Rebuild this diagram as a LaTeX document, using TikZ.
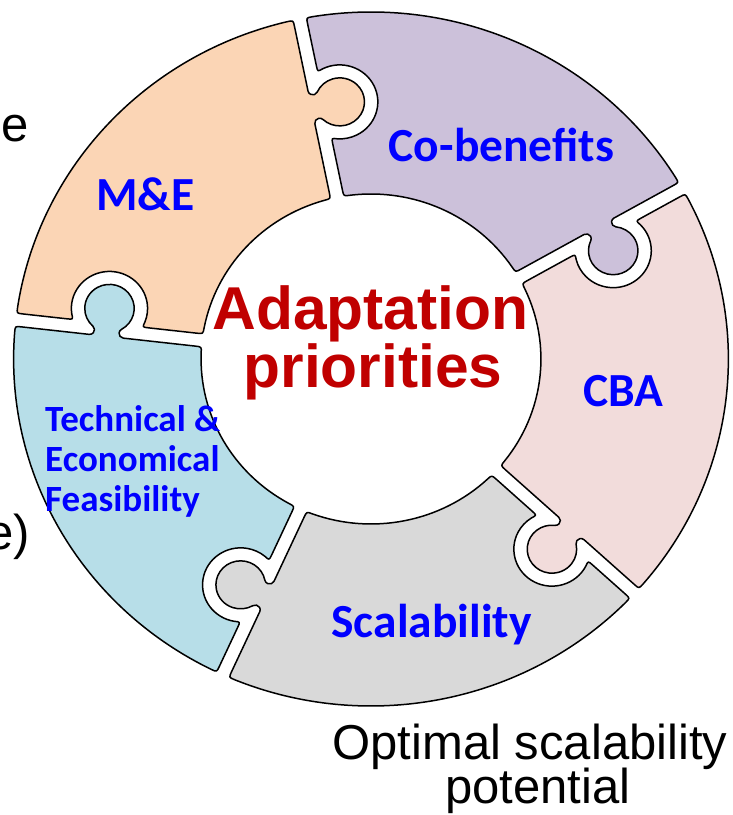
\documentclass[tikz,border=0pt]{standalone}
\usepackage{fontspec}
\setmainfont{Liberation Sans}
\newfontfamily\calfont{Carlito}
\definecolor{mecol}{HTML}{FBD5B5}
\definecolor{cobcol}{HTML}{CCC1DA}
\definecolor{cbacol}{HTML}{F2DCDB}
\definecolor{scalcol}{HTML}{D9D9D9}
\definecolor{techcol}{HTML}{B7DEE8}
\definecolor{lblblue}{HTML}{0000FF}
\definecolor{titlered}{HTML}{C00000}
\begin{document}
\begin{tikzpicture}[x=1pt,y=1pt,
  piece/.style={draw=black, line width=1.5pt, line join=round},
  lbl/.style={font=\calfont\bfseries\fontsize{47.5}{50}\selectfont, text=lblblue, inner sep=0pt, anchor=base},
  techlbl/.style={font=\calfont\bfseries\fontsize{37}{40}\selectfont, text=lblblue, inner sep=0pt, anchor=base west, text depth=0pt},
  titlelbl/.style={font=\bfseries\fontsize{60.5}{60}\selectfont, text=titlered, inner sep=0pt, anchor=base},
  plainlbl/.style={font=\fontsize{49}{49}\selectfont, text=black, inner sep=0pt}
]
\useasboundingbox (0,0) rectangle (732,815);

\foreach \ang/\col in {29.5/cobcol, 101.5/mecol, 173.5/techcol, 245.5/scalcol, 317.5/cbacol}{
  \begin{scope}[shift={(371,456)}, xscale=1.03, rotate=\ang]
    \filldraw[piece, fill=\col]
      (340.94,6.5) .. controls (346.94,6.5) .. (2.06:347)
      arc[start angle=2.06, end angle=69.94, radius=347]
      .. controls ([rotate=72]346.94,-6.5) .. ([rotate=72]340.94,-6.5)
      -- ([rotate=72]297.82,-6.5)
      .. controls ([rotate=72]291.82,-6.5) .. ([rotate=72]293.75,-11.97)
      arc[start angle=86.92, end angle=-122.92, radius=37]
      .. controls ([rotate=72]224.18,-6.5) .. ([rotate=72]218.18,-6.5)
      -- ([rotate=72]170.87,-6.5)
      .. controls ([rotate=72]164.87,-6.5) .. (67.66:165)
      arc[start angle=67.66, end angle=4.34, radius=165]
      .. controls (164.87,6.5) .. (170.87,6.5)
      -- (241.3,6.5)
      arc[start angle=90, end angle=-54.4, radius=4.7]
      arc[start angle=125.6, end angle=414.4, radius=24]
      arc[start angle=234.4, end angle=90, radius=4.7]
      -- cycle;
  \end{scope}
}

\node[lbl] (cob) at (501.5,653) {Co-benefits};
\node[lbl] (me) at (145.5,604) {M\&E};
\node[lbl] (cba) at (623.5,408) {CBA};
\node[lbl] (scal) at (431.5,177) {Scalability};
\node[techlbl] (tech1) at (45,383) {Technical \&};
\node[techlbl] (tech2) at (45,343) {Economical};
\node[techlbl] (tech3) at (45,303) {Feasibility};
\node[titlelbl, text depth=0pt] (title1) at (370.5,485) {Adaptation};
\node[titlelbl] (title2) at (373,427) {priorities};
\node[plainlbl, anchor=base, text depth=0pt] (opt1) at (530,56) {Optimal scalability};
\node[plainlbl, anchor=base] (opt2) at (538,11.5) {potential};
\node[plainlbl, anchor=base west] (eleft) at (1,673) {e};
\node[plainlbl, anchor=base east] (eparen) at (30,265) {e)};
\end{tikzpicture}
\end{document}
